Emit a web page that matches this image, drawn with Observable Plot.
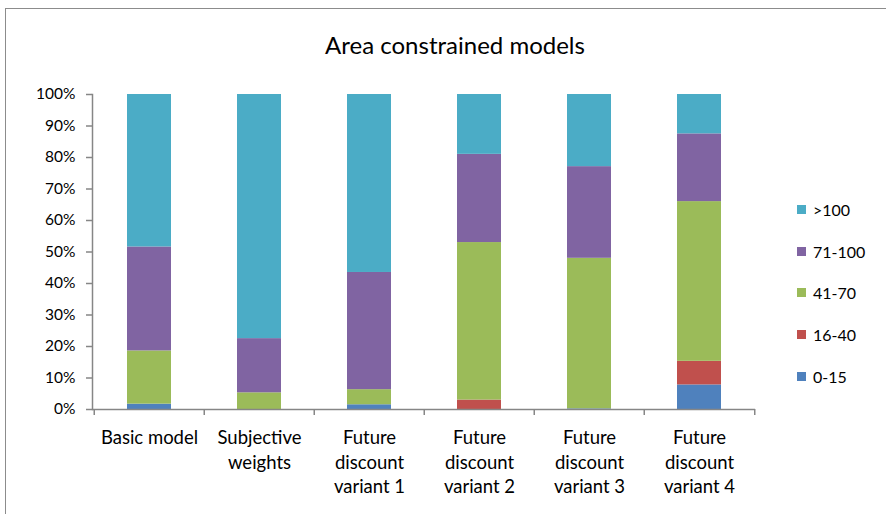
<!DOCTYPE html>
<html>
<head>
<meta charset="utf-8">
<script src="https://cdn.jsdelivr.net/npm/d3@7"></script>
<script src="https://cdn.jsdelivr.net/npm/@observablehq/plot@0.6"></script>
<style>
  html, body { margin: 0; padding: 0; background: #fff; overflow: hidden; }
  #wrap { position: relative; width: 886px; height: 514px; font-family: Lato, "Open Sans", sans-serif; }
  #frame { position: absolute; left: 5px; top: 8px; width: 900px; height: 540px; border: 1px solid #8c8c8c; box-sizing: border-box; }
  #title { position: absolute; left: 0; width: 910px; top: 30px; text-align: center; font-size: 24px; color: #000; }
  #legend { position: absolute; left: 797px; top: 189px; font-size: 16px; color: #000; }
  .li { display: flex; align-items: center; height: 41.6px; }
  .sw { width: 9px; height: 9px; margin-right: 7px; }
  #chart { position: absolute; left: 0; top: 0; }
</style>
</head>
<body>
<div id="wrap">
  <div id="frame"></div>
  <div id="title">Area constrained models</div>
  <div id="chart"></div>
  <div id="legend"></div>
</div>
<script>
const categories = ["Basic model", "Subjective weights", "Future discount variant 1", "Future discount variant 2", "Future discount variant 3", "Future discount variant 4"];
const categoryLabels = ["Basic model", "Subjective\nweights", "Future\ndiscount\nvariant 1", "Future\ndiscount\nvariant 2", "Future\ndiscount\nvariant 3", "Future\ndiscount\nvariant 4"];
const seriesNames = ["0-15", "16-40", "41-70", "71-100", ">100"];
const seriesColors = ["#4F81BD", "#C0504D", "#9BBB59", "#8064A2", "#4BACC6"];
const s0_15   = [0.017, 0.000, 0.015, 0.000, 0.002, 0.078];
const s16_40  = [0.000, 0.000, 0.000, 0.030, 0.000, 0.075];
const s41_70  = [0.169, 0.053, 0.048, 0.500, 0.478, 0.507];
const s71_100 = [0.330, 0.172, 0.372, 0.280, 0.291, 0.215];
const s100    = [0.484, 0.775, 0.565, 0.190, 0.229, 0.125];
const yTicks = [0, 0.1, 0.2, 0.3, 0.4, 0.5, 0.6, 0.7, 0.8, 0.9, 1.0];

const seriesValues = [s0_15, s16_40, s41_70, s71_100, s100];
const rows = [];
seriesNames.forEach((s, si) => categories.forEach((c, ci) => rows.push({category: c, series: s, value: seriesValues[si][ci]})));
const labelOf = new Map(categories.map((c, i) => [c, categoryLabels[i]]));

const axisColor = "#868686";
const halfStep = (886 - 92 - 131) / categories.length / 2;

const chart = Plot.plot({
  width: 886,
  height: 514,
  marginLeft: 92,
  marginRight: 131,
  marginTop: 94,
  marginBottom: 105,
  style: {fontFamily: "Lato, 'Open Sans', sans-serif", background: "transparent", color: "#000"},
  x: {domain: categories, paddingInner: 0.6, paddingOuter: 0.3, axis: null},
  y: {domain: [0, 1]},
  color: {domain: seriesNames, range: seriesColors},
  marks: [
    Plot.barY(rows, Plot.stackY({x: "category", y: "value", fill: "series", order: seriesNames})),
    Plot.frame({anchor: "left", stroke: axisColor, strokeWidth: 1.5}),
    Plot.ruleY([0], {stroke: axisColor, strokeWidth: 1.5}),
    Plot.axisY({ticks: yTicks, tickFormat: d3.format(".0%"), tickSize: 6, tickPadding: 11, stroke: axisColor, strokeWidth: 1.5, fontSize: 15.5, fill: "#000", label: null}),
    Plot.ruleX(categories, {x: d => d, y1: 0, y2: 0, insetBottom: -6, stroke: axisColor, strokeWidth: 1.5, dx: -halfStep}),
    Plot.ruleX([categories[categories.length - 1]], {x: d => d, y1: 0, y2: 0, insetBottom: -6, stroke: axisColor, strokeWidth: 1.5, dx: halfStep}),
    Plot.text(categories, {x: d => d, y: 0, text: d => labelOf.get(d), lineAnchor: "top", dy: 17, lineHeight: 1.33, fontSize: 18.5, fill: "#000"})
  ]
});
document.getElementById("chart").appendChild(chart);

const legend = document.getElementById("legend");
seriesNames.slice().reverse().forEach((s, i) => {
  const color = seriesColors[seriesNames.length - 1 - i];
  const row = document.createElement("div");
  row.className = "li";
  row.innerHTML = `<span class="sw" style="background:${color}"></span><span>${s}</span>`;
  legend.appendChild(row);
});
</script>
</body>
</html>
